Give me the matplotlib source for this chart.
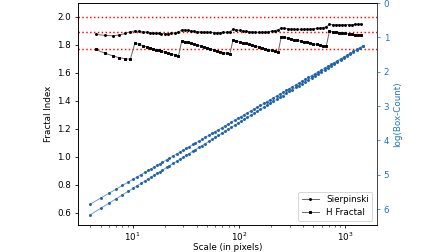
import numpy as np
import matplotlib
matplotlib.use("Agg")
import matplotlib.pyplot as plt

# box sizes (pixels)
scales = [4, 5, 6, 7, 8, 9, 10, 11, 12, 13, 14, 15, 16, 17, 18, 19, 21, 22, 24, 26,
          28, 30, 32, 34, 37, 39, 42, 45, 48, 52, 56, 60, 64, 69, 74, 79, 85, 91, 98,
          105, 112, 120, 129, 138, 148, 159, 171, 183, 196, 210, 226, 242, 259, 278,
          298, 319, 343, 367, 394, 422, 452, 485, 520, 558, 598, 641, 687, 736, 789,
          846, 907, 973, 1043, 1118, 1198, 1285, 1377, 1476]

# log10(box count)
logN_sierpinski = [6.160, 5.974, 5.823, 5.695, 5.584, 5.486, 5.398, 5.319, 5.247, 5.180,
                   5.118, 5.061, 5.007, 4.958, 4.910, 4.864, 4.781, 4.743, 4.670, 4.603,
                   4.542, 4.485, 4.431, 4.381, 4.310, 4.266, 4.205, 4.148, 4.094, 4.027,
                   3.966, 3.908, 3.855, 3.791, 3.734, 3.678, 3.619, 3.562, 3.500, 3.443,
                   3.389, 3.332, 3.270, 3.215, 3.157, 3.098, 3.037, 2.981, 2.924, 2.866,
                   2.805, 2.748, 2.692, 2.633, 2.575, 2.518, 2.458, 2.401, 2.344, 2.286,
                   2.229, 2.169, 2.112, 2.052, 1.995, 1.938, 1.880, 1.823, 1.765, 1.708,
                   1.648, 1.591, 1.534, 1.476, 1.419, 1.359, 1.302, 1.244]
logN_hfractal = [5.850, 5.676, 5.534, 5.414, 5.310, 5.219, 5.136, 5.062, 4.994, 4.932,
                 4.874, 4.820, 4.770, 4.723, 4.679, 4.635, 4.558, 4.522, 4.454, 4.391,
                 4.334, 4.280, 4.230, 4.183, 4.117, 4.076, 4.018, 3.965, 3.914, 3.852,
                 3.794, 3.740, 3.690, 3.631, 3.577, 3.525, 3.469, 3.416, 3.358, 3.304,
                 3.254, 3.200, 3.143, 3.091, 3.037, 2.981, 2.924, 2.872, 2.818, 2.764,
                 2.707, 2.653, 2.601, 2.545, 2.492, 2.438, 2.382, 2.328, 2.275, 2.221,
                 2.167, 2.111, 2.057, 2.002, 1.948, 1.894, 1.840, 1.787, 1.733, 1.679,
                 1.623, 1.570, 1.516, 1.462, 1.408, 1.352, 1.299, 1.245]

# local fractal index between consecutive scales
fi_sierpinski = [1.874, 1.867, 1.864, 1.869, 1.881, 1.893,
                 1.898, 1.896, 1.893, 1.890, 1.887, 1.885, 1.883, 1.881, 1.880, 1.879,
                 1.880, 1.882, 1.885, 1.889,
                 1.907, 1.905, 1.902, 1.899, 1.896, 1.894, 1.892, 1.890, 1.889, 1.888,
                 1.887, 1.887, 1.887, 1.888, 1.889, 1.892,
                 1.910, 1.906, 1.902, 1.899, 1.896, 1.893, 1.891, 1.889, 1.889, 1.889,
                 1.890, 1.892, 1.896, 1.901, 1.906,
                 1.921, 1.917, 1.914, 1.912, 1.911, 1.910, 1.910, 1.910, 1.911, 1.912,
                 1.914, 1.916, 1.919, 1.923, 1.928,
                 1.945, 1.944, 1.943, 1.943, 1.943, 1.943, 1.944, 1.944, 1.945, 1.946, 1.948]
fi_hfractal = [1.767, 1.739, 1.721, 1.707, 1.700, 1.696,
               1.812, 1.802, 1.793, 1.785, 1.778, 1.771, 1.765, 1.759, 1.754, 1.747,
               1.741, 1.735, 1.728, 1.722,
               1.829, 1.823, 1.817, 1.810, 1.803, 1.798, 1.791, 1.785, 1.778, 1.770,
               1.764, 1.757, 1.751, 1.744, 1.738, 1.731,
               1.834, 1.828, 1.821, 1.815, 1.809, 1.803, 1.796, 1.790, 1.784, 1.777,
               1.771, 1.765, 1.759, 1.752, 1.746,
               1.857, 1.852, 1.847, 1.842, 1.837, 1.832, 1.827, 1.822, 1.817, 1.812,
               1.807, 1.802, 1.797, 1.793, 1.788,
               1.896, 1.893, 1.890, 1.887, 1.884, 1.881, 1.878, 1.876, 1.873, 1.871, 1.869]

# reference dimensions
ref_dims = [2.0, 1.893, 1.771]

plt.rcParams["font.size"] = 9

s = np.array(scales, dtype=float)
s_mid = np.sqrt(s[:-1] * s[1:])

fig = plt.figure(figsize=(6.4, 3.6), dpi=70)
ax1 = fig.add_axes([0.174, 0.106, 0.667, 0.882])

for d in ref_dims:
    ax1.axhline(d, color="red", linestyle=":", linewidth=1.5)

ax1.plot(s_mid, fi_sierpinski, color="0.4", linewidth=1.0, marker=".",
         markersize=4, markerfacecolor="k", markeredgecolor="k", label="Sierpinski")
ax1.plot(s_mid, fi_hfractal, color="0.4", linewidth=1.0, marker="s",
         markersize=2.3, markerfacecolor="k", markeredgecolor="k", label="H Fractal")

ax1.set_xscale("log")
ax1.set_xlim(3.05, 1986)
ax1.set_ylim(0.51, 2.098)
ax1.set_xlabel("Scale (in pixels)", labelpad=0.5)
ax1.set_ylabel("Fractal Index")
ax1.tick_params(axis="x", pad=1.5)
ax1.legend(loc="lower right")

ax2 = ax1.twinx()
blue_line = "#6fa0d2"
blue_mark = "#1f62ad"
ax2.plot(s, logN_sierpinski, color=blue_line, linewidth=1.0, marker=".",
         markersize=4, markerfacecolor=blue_mark, markeredgecolor=blue_mark)
ax2.plot(s, logN_hfractal, color=blue_line, linewidth=1.0, marker=".",
         markersize=4, markerfacecolor=blue_mark, markeredgecolor=blue_mark)
ax2.set_ylim(6.47, 0)
ax2.set_ylabel("log(Box-Count)", color="tab:blue")
ax2.tick_params(axis="y", colors="tab:blue")
ax2.spines["right"].set_color("0.3")

fig.savefig("out.png", dpi=70)
